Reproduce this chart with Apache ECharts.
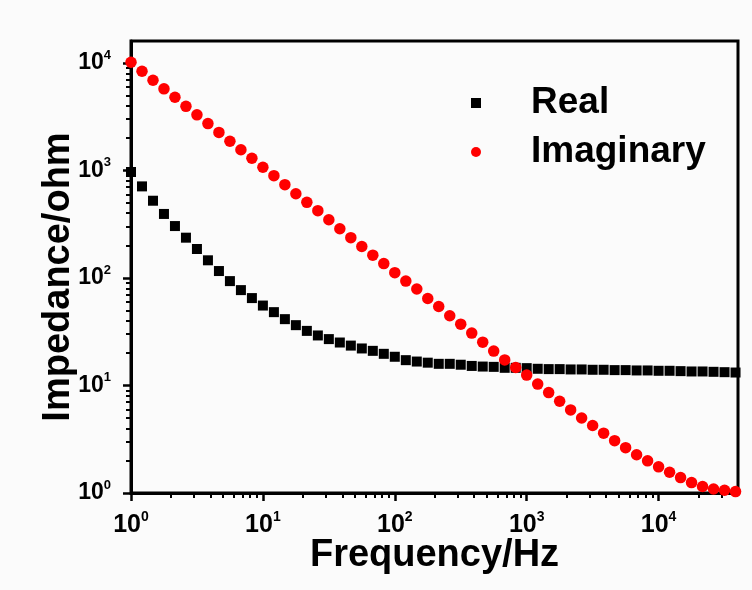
<!DOCTYPE html>
<html><head><meta charset="utf-8">
<script src="https://cdn.jsdelivr.net/npm/echarts@6/dist/echarts.min.js"></script>
<style>html,body{margin:0;padding:0;background:#fbfbfb}#c{width:752px;height:590px}</style>
</head><body><div id="c"></div>
<script>
// Frequency (Hz), 12 points per decade
const frequency = [1, 1.212, 1.468, 1.778, 2.154, 2.610, 3.162, 3.831, 4.642, 5.623, 6.813, 8.254,
  10, 12.12, 14.68, 17.78, 21.54, 26.10, 31.62, 38.31, 46.42, 56.23, 68.13, 82.54,
  100, 121.2, 146.8, 177.8, 215.4, 261.0, 316.2, 383.1, 464.2, 562.3, 681.3, 825.4,
  1000, 1212, 1468, 1778, 2154, 2610, 3162, 3831, 4642, 5623, 6813, 8254,
  10000, 12115, 14678, 17783, 21544, 26102, 31623, 38312];
// Real part of impedance (ohm)
const realZ = [968, 711, 523, 394, 304, 237, 186, 146, 116, 93.5, 77.1, 65.0,
  55.4, 48.1, 41.4, 36.4, 32.2, 29.2, 27.0, 25.1, 23.5, 22.1, 21.0, 19.7,
  18.5, 17.2, 16.7, 16.3, 15.9, 15.9, 15.6, 15.2, 15.0, 14.9, 14.6, 14.6,
  14.5, 14.3, 14.2, 14.2, 14.1, 14.1, 14.0, 14.0, 13.9, 13.9, 13.8, 13.8,
  13.7, 13.7, 13.6, 13.5, 13.5, 13.4, 13.3, 13.2];
// Imaginary part of impedance (ohm)
const imagZ = [10150, 8370, 6900, 5740, 4800, 3950, 3290, 2730, 2260, 1870, 1560, 1300,
  1070, 895, 738, 608, 505, 423, 348, 287, 237, 196, 163, 136,
  112, 93.5, 78.9, 64.4, 54.3, 44.5, 37.2, 30.7, 25.3, 20.9, 17.3, 14.7,
  12.5, 10.3, 8.59, 7.14, 5.93, 4.99, 4.24, 3.60, 3.07, 2.64, 2.27, 1.99,
  1.75, 1.56, 1.39, 1.25, 1.15, 1.09, 1.06, 1.03];
const seriesNames = ['Real', 'Imaginary'];
const xMajorTicks = [1, 10, 100, 1000, 10000];
const yMajorTicks = [1, 10, 100, 1000, 10000];
const xRange = [1, 40000];
const yRange = [1, 16000];

function minorTicks(range) {
  const out = [];
  for (let k = 0; k <= 5; k++) {
    for (let m = 2; m <= 9; m++) {
      const v = m * Math.pow(10, k);
      if (v > range[0] && v < range[1]) out.push(v);
    }
  }
  return out;
}
const FONT = '"Liberation Sans", Arial, sans-serif';
function powLabel(v) {
  const e = Math.round(Math.log10(v));
  return '{b|10}{s|' + e + '}';
}
function richFor(size) {
  return {
    b: { fontSize: size, fontWeight: 'bold', fontFamily: FONT, color: '#000', lineHeight: size + 6 },
    s: { fontSize: Math.round(size * 0.58), fontWeight: 'bold', fontFamily: FONT, color: '#000', verticalAlign: 'top', lineHeight: Math.round(size * 0.58) }
  };
}
const tickLine = { color: '#000', width: 2.5 };
const minorLine = { color: '#000', width: 2 };

const chart = echarts.init(document.getElementById('c'), null, { renderer: 'canvas' });
chart.setOption({
  backgroundColor: '#fbfbfb',
  animation: false,
  grid: { left: 131, right: 14, top: 41, bottom: 97, show: true, borderColor: '#000', borderWidth: 3, containLabel: false, outerBoundsMode: 'none' },
  legend: {
    orient: 'vertical', left: 466, top: 78, itemWidth: 10, itemHeight: 10, itemGap: 9,
    selectedMode: false,
    data: [{ name: seriesNames[0], icon: 'rect' }, { name: seriesNames[1], icon: 'circle' }],
    itemStyle: { opacity: 1 },
    textStyle: { fontSize: 37, fontWeight: 'bold', fontFamily: FONT, color: '#000', lineHeight: 40, padding: [0, 0, 0, 45] }
  },
  xAxis: [
    {
      type: 'log', logBase: 10, min: xRange[0], max: xRange[1], position: 'bottom',
      axisLine: { lineStyle: { color: '#000', width: 3 } },
      axisTick: { customValues: xMajorTicks, length: 8, lineStyle: tickLine },
      axisLabel: { customValues: xMajorTicks, formatter: powLabel, rich: richFor(25), margin: 17 },
      splitLine: { show: false },
      name: 'Frequency/Hz', nameLocation: 'middle', nameGap: 44, nameMoveOverlap: false,
      nameTextStyle: { fontSize: 38, fontWeight: 'bold', fontFamily: FONT, color: '#000' }
    },
    {
      type: 'log', logBase: 10, min: xRange[0], max: xRange[1], position: 'bottom',
      axisLine: { show: false },
      axisTick: { customValues: minorTicks(xRange), length: 5, lineStyle: minorLine },
      axisLabel: { show: false },
      splitLine: { show: false }
    }
  ],
  yAxis: [
    {
      type: 'log', logBase: 10, min: yRange[0], max: yRange[1], position: 'left',
      axisLine: { lineStyle: { color: '#000', width: 3 } },
      axisTick: { customValues: yMajorTicks, length: 8, lineStyle: tickLine },
      axisLabel: { customValues: yMajorTicks, formatter: powLabel, rich: richFor(23), margin: 20 },
      splitLine: { show: false },
      name: 'Impedance/ohm', nameLocation: 'middle', nameGap: 53, nameMoveOverlap: false,
      nameTextStyle: { fontSize: 38, fontWeight: 'bold', fontFamily: FONT, color: '#000', padding: [0, 20, 0, 0] }
    },
    {
      type: 'log', logBase: 10, min: yRange[0], max: yRange[1], position: 'left',
      axisLine: { show: false },
      axisTick: { customValues: minorTicks(yRange), length: 5, lineStyle: minorLine },
      axisLabel: { show: false },
      splitLine: { show: false }
    }
  ],
  series: [
    {
      name: seriesNames[0], type: 'scatter', xAxisIndex: 0, yAxisIndex: 0,
      symbol: 'rect', symbolSize: 10, clip: false,
      itemStyle: { color: '#000', opacity: 1 },
      data: frequency.map((f, i) => [f, realZ[i]])
    },
    {
      name: seriesNames[1], type: 'scatter', xAxisIndex: 0, yAxisIndex: 0,
      symbol: 'circle', symbolSize: 11.5, clip: false,
      itemStyle: { color: '#ff0000', opacity: 1 },
      data: frequency.map((f, i) => [f, imagZ[i]])
    }
  ]
});
</script>
</body></html>
